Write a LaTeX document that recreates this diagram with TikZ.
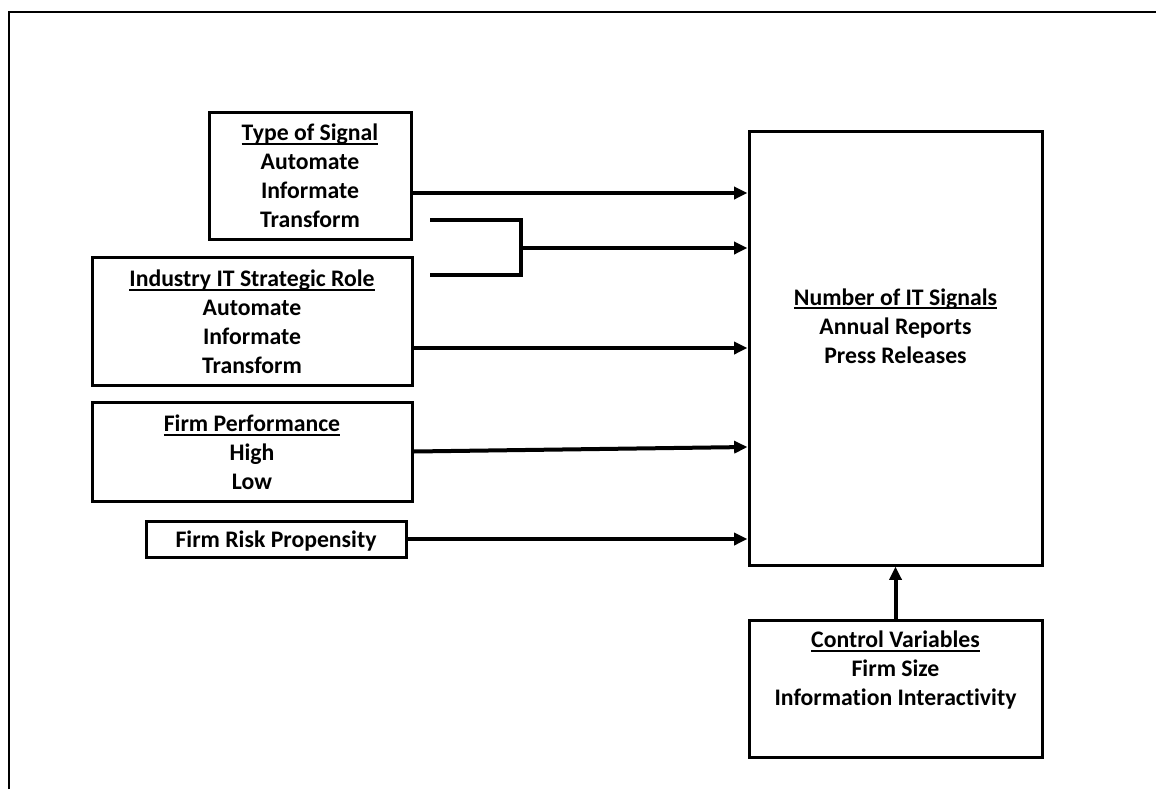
\documentclass[tikz,border=0pt]{standalone}
\usepackage{fontspec}
\setmainfont{Carlito}[Ligatures=NoCommon]
\newcommand\myul[1]{\setbox0\hbox{#1}\rlap{\rule[-3pt]{\wd0}{1.5pt}}\box0}
\usetikzlibrary{arrows.meta}
\begin{document}
\begin{tikzpicture}[x=0.75pt,y=-0.75pt,
  box/.style={draw, line width=2.25pt, inner sep=0pt, rectangle},
  txt/.style={align=center, inner sep=0pt, font=\fontsize{17.8}{21.7}\selectfont\bfseries},
  conn/.style={line width=3pt},
  arr/.style={line width=3pt, -{Triangle[length=10pt,width=9pt]}}]
\useasboundingbox (0,0) rectangle (1156,789);
\draw[line width=1.6pt] (9,789) -- (9,12) -- (1156,12);
% boxes
\node[box, minimum width=202*0.75pt, minimum height=127*0.75pt] (sig) at (310,175.5) {};
\node[box, minimum width=320*0.75pt, minimum height=128*0.75pt] (ind) at (252,321) {};
\node[box, minimum width=320*0.75pt, minimum height=99*0.75pt] (perf) at (252,451.5) {};
\node[box, minimum width=260*0.75pt, minimum height=36*0.75pt] (risk) at (276,539) {};
\node[box, minimum width=293*0.75pt, minimum height=434*0.75pt] (num) at (895.5,348) {};
\node[box, minimum width=293*0.75pt, minimum height=137*0.75pt] (ctrl) at (895.5,688.5) {};
% texts
\node[txt] (sigt) at (310,176) {\myul{Type of Signal}\\Automate\\Informate\\Transform};
\node[txt] (indt) at (252,322) {\myul{Industry IT Strategic Role}\\Automate\\Informate\\Transform};
\node[txt] (perft) at (252,452.5) {\myul{Firm Performance}\\High\\Low};
\node[txt] (riskt) at (276,541) {Firm Risk Propensity};
\node[txt] (numt) at (895.5,326) {\myul{Number of IT Signals}\\Annual Reports\\Press Releases};
\node[txt] (ctrlt) at (895.5,670) {\myul{Control Variables}\\Firm Size\\Information Interactivity};
% connectors
\coordinate (y1) at (0,193);
\coordinate (y3) at (0,348);
\coordinate (y4) at (0,447);
\coordinate (bt) at (430,220);
\coordinate (bb) at (430,275);
\coordinate (bj) at (521,248);
\draw[arr] (sig.east |- y1) -- (num.west |- y1);
\draw[conn] (bt) -| (bj) |- (bb);
\draw[arr] (bj) -- (num.west |- bj);
\draw[arr] (ind.east |- y3) -- (num.west |- y3);
\draw[arr] (perf.east) -- (num.west |- y4);
\draw[arr] (risk.east) -- (num.west |- risk.east);
\draw[arr] (ctrl.north) -- (num.south);
\end{tikzpicture}
\end{document}
